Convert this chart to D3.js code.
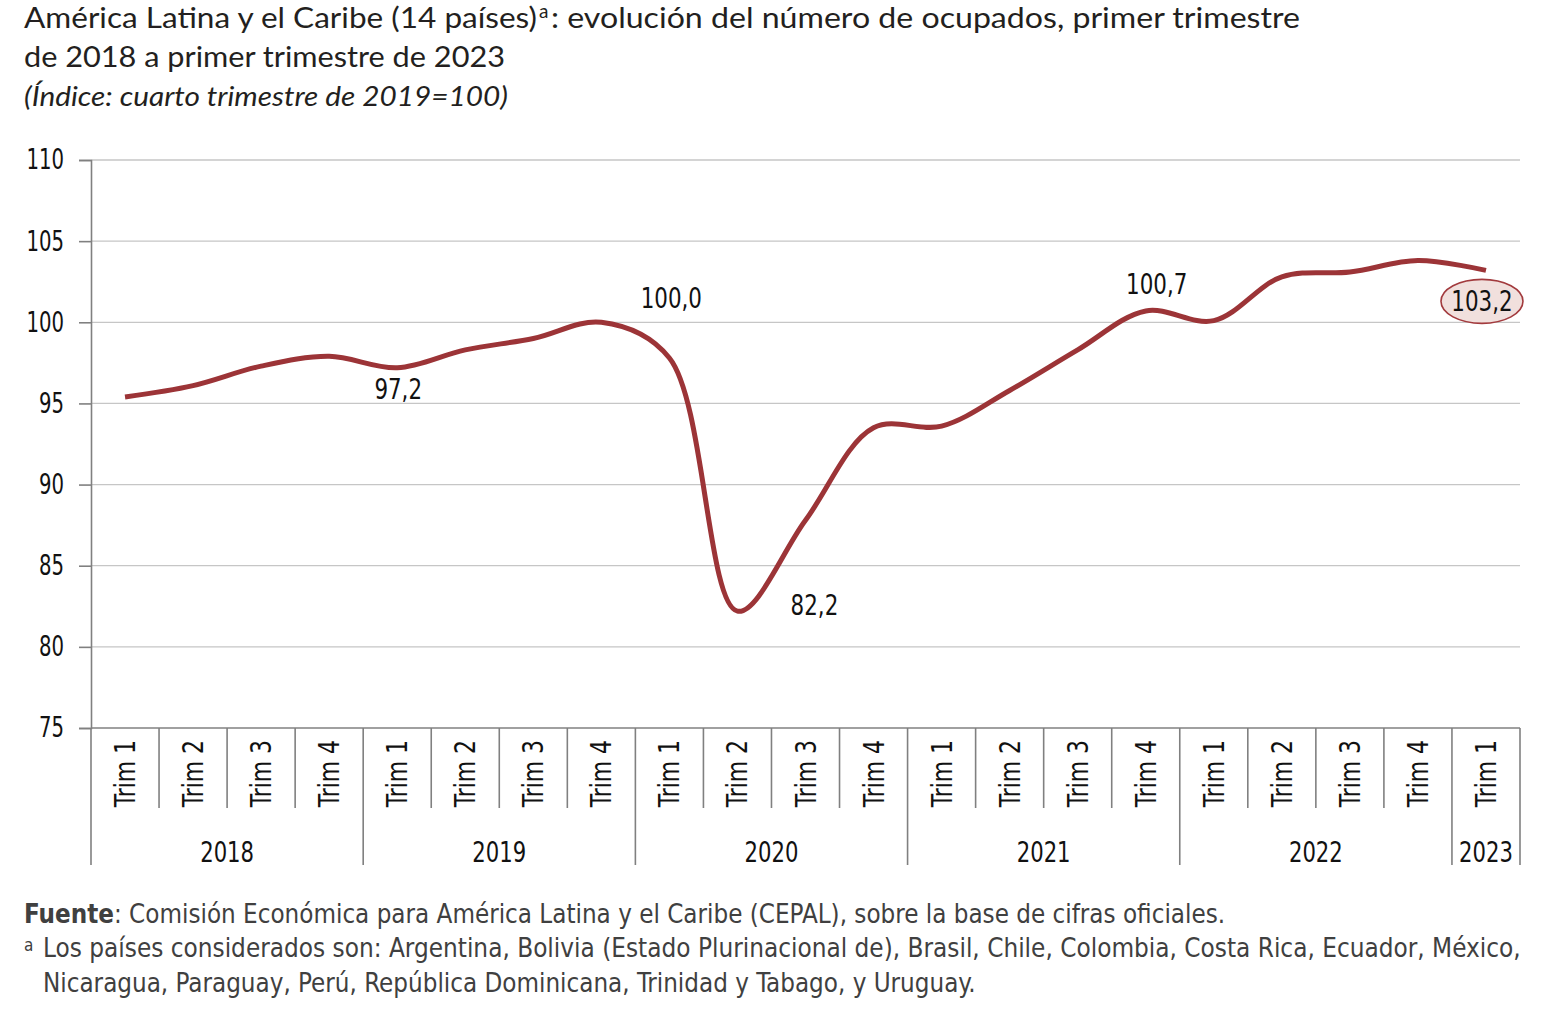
<!DOCTYPE html>
<html><head><meta charset="utf-8">
<script src="https://cdn.jsdelivr.net/npm/d3@7"></script>
<style>
html,body{margin:0;padding:0;background:#fff;}
svg{display:block;}
.cond{font-family:"Liberation Sans Narrow","DejaVu Sans Condensed","Roboto",sans-serif;}
.ttl{font-family:"Lato","Open Sans","Noto Sans",sans-serif;font-weight:400;}
</style></head>
<body>
<svg id="chart" width="1566" height="1036"></svg>
<script>
// ---- data ----
const quarters = ["Trim 1","Trim 2","Trim 3","Trim 4","Trim 1","Trim 2","Trim 3","Trim 4","Trim 1","Trim 2","Trim 3","Trim 4","Trim 1","Trim 2","Trim 3","Trim 4","Trim 1","Trim 2","Trim 3","Trim 4","Trim 1"];
const years = ["2018","2019","2020","2021","2022","2023"];
const quartersPerYear = [4,4,4,4,4,1];
const values = [95.4,96.1,97.3,97.9,97.2,98.3,99.0,100.0,97.8,82.2,87.8,93.5,93.6,95.8,98.3,100.7,100.1,102.8,103.1,103.8,103.2];
const yTicks = [75,80,85,90,95,100,105,110];
const annotatedIdx = [4,7,9,15,20];
const annotatedText = ["97,2","100,0","82,2","100,7","103,2"];

const svg = d3.select("#chart");
const L = 91, R = 1520, T = 160, B = 728;
const x = d3.scaleBand().domain(d3.range(quarters.length)).range([L, R]).paddingInner(0).paddingOuter(0);
const y = d3.scaleLinear().domain([75,110]).range([B, T]);
const cx = i => x(i) + x.bandwidth()/2;

function squeeze(sel, f){
  sel.each(function(){
    const w = this.getComputedTextLength();
    d3.select(this).attr("textLength", w*f).attr("lengthAdjust","spacingAndGlyphs");
  });
}
// place a text at (tx,ty) and scale it horizontally so its width equals target
function fitText(sel, tx, ty, target){
  const w = sel.node().getComputedTextLength();
  sel.attr("x",0).attr("y",0).attr("transform",`translate(${tx},${ty}) scale(${target/w},1)`);
}

// ---- title ----
svg.append("text").attr("class","ttl").attr("x",24).attr("y",28).attr("font-size",28).attr("fill","#231f20")
  .attr("textLength",513).attr("lengthAdjust","spacingAndGlyphs").text("América Latina y el Caribe (14 países)");
svg.append("text").attr("class","ttl").attr("x",539).attr("y",18).attr("font-size",19).attr("fill","#231f20").text("a");
svg.append("text").attr("class","ttl").attr("x",551).attr("y",28).attr("font-size",28).attr("fill","#231f20")
  .attr("textLength",749).attr("lengthAdjust","spacingAndGlyphs").text(": evolución del número de ocupados, primer trimestre");
svg.append("text").attr("class","ttl").attr("x",24).attr("y",67).attr("font-size",28).attr("fill","#231f20")
  .attr("textLength",481).attr("lengthAdjust","spacingAndGlyphs").text("de 2018 a primer trimestre de 2023");
svg.append("text").attr("class","ttl").attr("x",24).attr("y",106).attr("font-size",27).attr("font-style","italic").attr("fill","#231f20")
  .attr("textLength",484).attr("lengthAdjust","spacingAndGlyphs").text("(Índice: cuarto trimestre de 2019=100)");

// ---- grid ----
svg.append("g").selectAll("line").data(yTicks.filter(d=>d>75)).join("line")
  .attr("x1",L).attr("x2",R).attr("y1",d=>y(d)).attr("y2",d=>y(d))
  .attr("stroke","#c6c6c6").attr("stroke-width",1.3);

// ---- y axis ----
const yAxis = svg.append("g").attr("transform",`translate(${L},0)`)
  .call(d3.axisLeft(y).tickValues(yTicks).tickSize(12).tickPadding(15).tickFormat(d3.format("d")));
yAxis.select(".domain").attr("stroke","#808080").attr("stroke-width",1.6);
yAxis.selectAll(".tick line").attr("stroke","#808080").attr("stroke-width",1.6);
yAxis.selectAll(".tick text").attr("class","cond").attr("font-size",28).attr("fill","#111");
squeeze(yAxis.selectAll(".tick text"), 0.78);

// ---- x axis ----
svg.append("line").attr("x1",L).attr("x2",R).attr("y1",B).attr("y2",B).attr("stroke","#808080").attr("stroke-width",1.6);
const starts = [];
let acc = 0;
quartersPerYear.forEach(n=>{starts.push(acc); acc+=n;});
const boundaries = d3.range(quarters.length+1);
const yearBounds = new Set([...starts, quarters.length]);
svg.append("g").selectAll("line").data(boundaries).join("line")
  .attr("x1",i=> i<quarters.length ? x(i) : R).attr("x2",i=> i<quarters.length ? x(i) : R)
  .attr("y1",B).attr("y2",i=> yearBounds.has(i) ? 865 : 808)
  .attr("stroke","#808080").attr("stroke-width",1.6);
const qLabels = svg.append("g").selectAll("text").data(quarters).join("text")
  .attr("class","cond").attr("font-size",28).attr("fill","#111")
  .attr("text-anchor","end")
  .attr("transform",(d,i)=>`translate(${cx(i)+10},740) rotate(-90)`)
  .text(d=>d);
squeeze(qLabels, 0.87);
const yLabels = svg.append("g").selectAll("text").data(years).join("text")
  .attr("class","cond").attr("font-size",28).attr("fill","#111").attr("text-anchor","middle")
  .attr("x",(d,i)=>{const s=starts[i], e=s+quartersPerYear[i]; return (x(s) + (e<quarters.length? x(e):R))/2;})
  .attr("y",862).text(d=>d);
squeeze(yLabels, 0.84);

// ---- line ----
const line = d3.line().x((d,i)=>cx(i)).y(d=>y(d)).curve(d3.curveCatmullRom.alpha(0.5));
svg.append("path").datum(values).attr("d",line).attr("fill","none")
  .attr("stroke","#9c3437").attr("stroke-width",5).attr("stroke-linecap","butt");

// ---- annotations ----
const offs = [[1,31],[70,-14],[77,4],[11,-17],[-4,41]];
annotatedIdx.forEach((idx,k)=>{
  const px = cx(idx) + offs[k][0], py = y(values[idx]) + offs[k][1];
  if (k===4) {
    svg.append("ellipse").attr("cx",px).attr("cy",py-10).attr("rx",41).attr("ry",22)
      .attr("fill","#f1e0dd").attr("stroke","#a23a3d").attr("stroke-width",1.6);
  }
  const t = svg.append("text").attr("class","cond").attr("font-size",28).attr("fill","#111")
    .attr("text-anchor","middle").attr("x",px).attr("y",py).text(annotatedText[k]);
  squeeze(t, 0.85);
});

// ---- footer ----
const f1 = svg.append("text").attr("class","cond").attr("font-size",27).attr("fill","#404040");
f1.append("tspan").attr("font-weight","bold").text("Fuente");
f1.append("tspan").text(":  Comisión Económica para América Latina y el Caribe (CEPAL), sobre la base de cifras oficiales.");
fitText(f1, 24, 923, 1202);
svg.append("text").attr("class","cond").attr("x",24).attr("y",951).attr("font-size",17).attr("fill","#404040").text("a");
const f2 = svg.append("text").attr("class","cond").attr("font-size",27).attr("fill","#404040")
  .text("Los países considerados son: Argentina, Bolivia (Estado Plurinacional de), Brasil, Chile, Colombia, Costa Rica, Ecuador, México,");
fitText(f2, 43, 957, 1478);
const f3 = svg.append("text").attr("class","cond").attr("font-size",27).attr("fill","#404040")
  .text("Nicaragua, Paraguay, Perú, República Dominicana, Trinidad y Tabago, y Uruguay.");
fitText(f3, 43, 992, 933);
</script>
</body></html>
